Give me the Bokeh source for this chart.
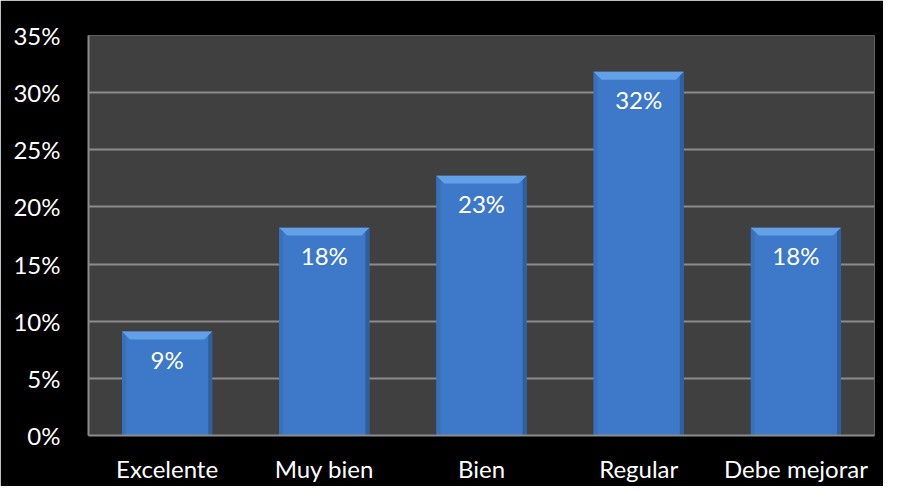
from bokeh.plotting import figure
from bokeh.models import Range1d, FixedTicker, NumeralTickFormatter, ColumnDataSource
from bokeh.core.properties import value
from bokeh.embed import file_html
from bokeh.resources import INLINE

categories = ["Excelente", "Muy bien", "Bien", "Regular", "Debe mejorar"]
shares = [2 / 22, 4 / 22, 5 / 22, 7 / 22, 4 / 22]
y_ticks = [0.0, 0.05, 0.10, 0.15, 0.20, 0.25, 0.30, 0.35]

FONT = value("Lato")
BAR_W = 0.573
BEVEL_H = 0.0068
BEVEL_X = 0.05
EDGE_X = 0.025

xs = [i + 0.5 for i in range(len(categories))]
labels = [f"{round(v * 100):.0f}%" for v in shares]

src = ColumnDataSource(dict(x=xs, top=shares, label=labels))

p = figure(width=883, height=486, output_backend="svg", toolbar_location=None,
           x_range=Range1d(0, len(categories)), y_range=Range1d(0, 0.35))
p.background_fill_color = "#404040"
p.border_fill_color = "#000000"
p.outline_line_color = None
p.min_border_left = 88
p.min_border_right = 9
p.min_border_top = 35
p.min_border_bottom = 51

# bars
p.vbar(x="x", top="top", width=BAR_W, bottom=0, source=src,
       fill_color="#3D79C8", line_color=None)
# left / right edge shading
p.vbar(x=[x - BAR_W / 2 + EDGE_X / 2 for x in xs], top=shares, width=EDGE_X, bottom=0,
       fill_color="#3A70B8", line_color=None)
p.vbar(x=[x + BAR_W / 2 - EDGE_X / 2 for x in xs], top=shares, width=EDGE_X, bottom=0,
       fill_color="#2F5F9F", line_color=None)
# top bevel
bx = []
by = []
for x, v in zip(xs, shares):
    l, r = x - BAR_W / 2, x + BAR_W / 2
    bx.append([l, r, r - BEVEL_X, l + BEVEL_X])
    by.append([v, v, v - BEVEL_H, v - BEVEL_H])
p.patches(bx, by, fill_color="#62A0E8", line_color=None)

# value labels
p.text(x="x", y="top", text="label", source=src, text_color="white",
       text_font=FONT, text_font_size="24px", text_align="center",
       text_baseline="top", y_offset=13)

# grid
p.xgrid.grid_line_color = None
p.ygrid.ticker = FixedTicker(ticks=y_ticks)
p.ygrid.grid_line_color = "#8C8C8C"
p.ygrid.grid_line_width = 2

# axes
p.yaxis.ticker = FixedTicker(ticks=y_ticks)
p.yaxis.formatter = NumeralTickFormatter(format="0%")
p.xaxis.ticker = FixedTicker(ticks=xs)
p.xaxis.major_label_overrides = {x: c for x, c in zip(xs, categories)}
for ax in (p.xaxis, p.yaxis):
    ax.axis_line_color = "#8C8C8C"
    ax.axis_line_width = 2
    ax.major_tick_line_color = None
    ax.minor_tick_line_color = None
    ax.major_label_text_color = "white"
    ax.major_label_text_font = "Lato"
    ax.major_label_text_font_size = "24px"
p.yaxis.major_label_standoff = 22
p.xaxis.major_label_standoff = 12

open("out.html", "w").write(file_html(p, INLINE))
